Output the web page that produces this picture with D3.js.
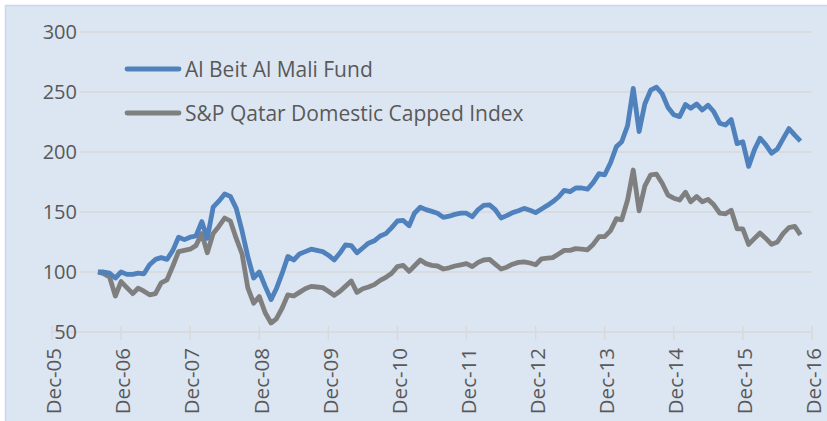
<!DOCTYPE html>
<html>
<head>
<meta charset="utf-8">
<script src="https://cdn.jsdelivr.net/npm/d3@7"></script>
<style>
  body { margin: 0; background: #ffffff; }
  text { font-family: "Open Sans", sans-serif; fill: #595959; }
</style>
</head>
<body>
<svg id="chart" width="827" height="421"></svg>
<script>
// monthly values, Aug-06 .. Oct-16 (points sit at month starts)
var fund = [
  100, 100, 99, 95, 100, 98, 98, 99, 98.5, 106,
  110.5, 112, 110.5, 118, 129, 127, 129, 130, 142, 128,
  154, 159, 165, 163, 153, 134, 113, 95, 100, 88,
  77, 86, 99, 113, 110, 115, 117, 119, 118, 117,
  114, 110, 116, 122.5, 122, 116, 120, 124, 126, 130,
  132, 137, 142.5, 143, 138.5, 149, 154, 152, 150.5, 149,
  145.5, 146.5, 148, 149, 149, 146, 152, 155.5, 156, 152,
  145, 147, 149.5, 151, 153, 151.5, 149.5, 152.5, 155.5, 158.5,
  162.5, 168, 167, 170, 170, 169, 174.5, 182, 181, 191,
  204.5, 208.5, 222, 253, 217, 240, 251.5, 254, 248.5, 237,
  231, 229.5, 239.5, 236.5, 240, 235, 239, 233.5, 224, 222.5,
  227, 207, 208.5, 188, 202, 211.5, 206, 199, 202.5, 211,
  219.5, 214, 209
];
var index = [
  100, 98.5, 96, 80, 92, 87, 82, 86.5, 84, 81,
  82, 91, 93.5, 105, 117, 118, 119, 122, 132, 116,
  132, 138, 145, 142.5, 128, 115, 87, 74, 79.5, 66,
  57.5, 61, 70, 81, 80, 83, 86, 88, 87.5, 87,
  84, 80.5, 84, 88, 92.5, 83, 86, 87.5, 89.5, 93,
  95.5, 99, 104.5, 105.5, 100.5, 105, 110, 107, 105.5, 105,
  102.5, 103.5, 105, 106, 107, 104.5, 108, 110, 110.5, 106.5,
  102.5, 104, 106.5, 108, 108.5, 107.5, 106, 111, 111.5, 112,
  115, 118, 118, 119.5, 119, 118.5, 123, 129.5, 129.5, 134.5,
  144.5, 143.5, 160, 185, 151, 171.5, 181, 181.5, 174, 164,
  161.5, 160, 166.5, 158.5, 163, 158.5, 160.5, 156, 149, 148.5,
  151.5, 136, 136, 123, 128, 132.5, 128, 123, 125, 132,
  137, 138, 131
];
var seriesNames = ["Al Beit Al Mali Fund", "S&P Qatar Domestic Capped Index"];
var seriesColors = ["#4F81BD", "#7F7F7F"];
var xTickLabels = ["Dec-05", "Dec-06", "Dec-07", "Dec-08", "Dec-09", "Dec-10",
                   "Dec-11", "Dec-12", "Dec-13", "Dec-14", "Dec-15", "Dec-16"];
var yTicks = [50, 100, 150, 200, 250, 300];

var startMonth = new Date(2006, 7, 1);
var months = d3.timeMonth.range(startMonth, d3.timeMonth.offset(startMonth, fund.length));
var parseTick = d3.timeParse("%b-%y");
var xTickDates = xTickLabels.map(function (s) { return parseTick(s); });

var svg = d3.select("#chart");

// chart background
svg.append("rect")
   .attr("x", 5.5).attr("y", 5.5)
   .attr("width", 840).attr("height", 440)
   .attr("fill", "#DCE6F2")
   .attr("stroke", "#C6D9F1")
   .attr("stroke-width", 1.5);

var x = d3.scaleTime()
  .domain([xTickDates[0], xTickDates[xTickDates.length - 1]])
  .range([52, 812]);
var y = d3.scaleLinear().domain([50, 300]).range([332, 32]);

// horizontal gridlines
svg.append("g").selectAll("line")
   .data(yTicks.slice(1))
   .enter().append("line")
   .attr("x1", 80).attr("x2", 812)
   .attr("y1", function (d) { return y(d); })
   .attr("y2", function (d) { return y(d); })
   .attr("stroke", "#D9D9D9").attr("stroke-width", 1.5);

// date axis line + ticks
svg.append("line")
   .attr("x1", x(xTickDates[0])).attr("x2", 812)
   .attr("y1", y(50)).attr("y2", y(50))
   .attr("stroke", "#D9D9D9").attr("stroke-width", 1.5);

svg.append("g").selectAll("line")
   .data(xTickDates)
   .enter().append("line")
   .attr("x1", function (d) { return x(d); })
   .attr("x2", function (d) { return x(d); })
   .attr("y1", y(50) - 6).attr("y2", y(50) + 8)
   .attr("stroke", "#D9D9D9").attr("stroke-width", 1.5);

// y labels
svg.append("g").selectAll("text")
   .data(yTicks)
   .enter().append("text")
   .attr("x", 77)
   .attr("y", function (d) { return y(d); })
   .attr("dy", "0.36em")
   .attr("text-anchor", "end")
   .attr("font-size", "20px")
   .text(function (d) { return d; });

// x labels, rotated
svg.append("g").selectAll("text")
   .data(xTickDates)
   .enter().append("text")
   .attr("transform", function (d) { return "translate(" + (x(d) + 2) + ",348) rotate(-90)"; })
   .attr("dy", "0.36em")
   .attr("text-anchor", "end")
   .attr("font-size", "20.5px")
   .text(function (d, i) { return xTickLabels[i]; });

// series lines (index first so fund is drawn on top)
var line = d3.line()
  .x(function (d, i) { return x(months[i]); })
  .y(function (d) { return y(d); });

[index, fund].forEach(function (vals, k) {
  svg.append("path")
     .datum(vals)
     .attr("d", line)
     .attr("fill", "none")
     .attr("stroke", seriesColors[1 - k])
     .attr("stroke-width", 4.8)
     .attr("stroke-linejoin", "round");
});

// legend
var legend = svg.append("g").selectAll("g")
  .data(seriesNames)
  .enter().append("g")
  .attr("transform", function (d, i) { return "translate(0," + (69 + i * 44) + ")"; });

legend.append("line")
  .attr("x1", 127).attr("x2", 179)
  .attr("stroke", function (d, i) { return seriesColors[i]; })
  .attr("stroke-width", 4.8)
  .attr("stroke-linecap", "round");

legend.append("text")
  .attr("x", 185)
  .attr("dy", "0.36em")
  .attr("font-size", "21px")
  .text(function (d) { return d; });
</script>
</body>
</html>
